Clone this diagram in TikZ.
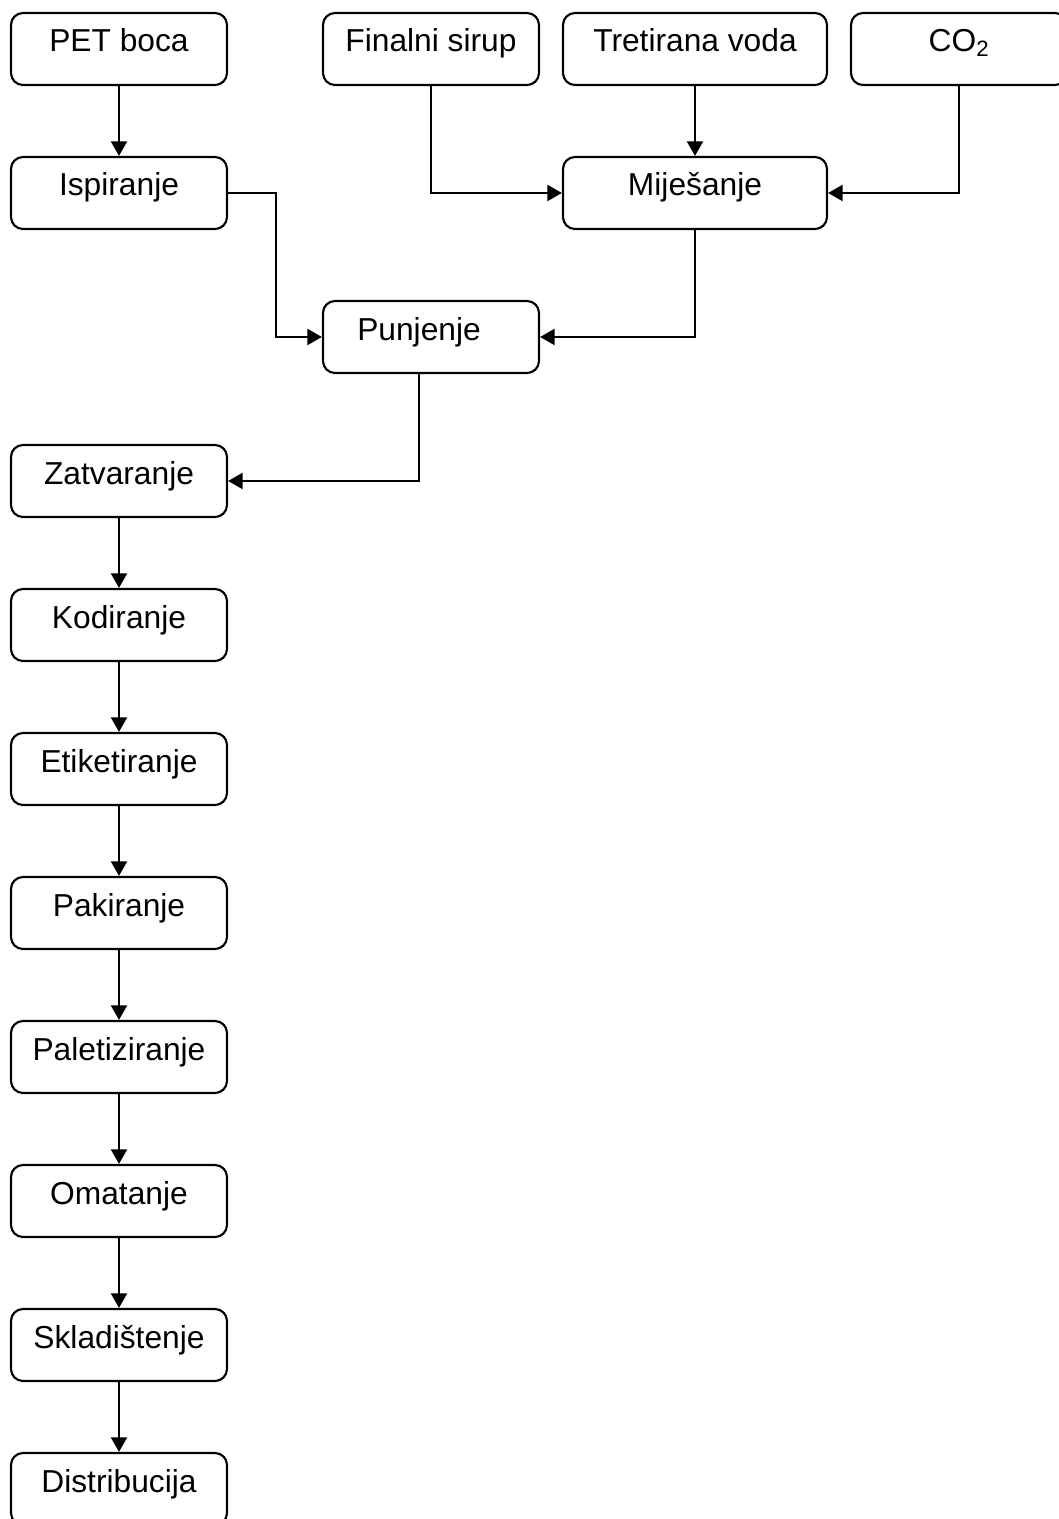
\documentclass[tikz,border=0pt]{standalone}
\usepackage{fontspec}
\setmainfont{Liberation Sans}
\usetikzlibrary{arrows.meta, positioning}

\begin{document}
\begin{tikzpicture}[
    x=0.75pt, y=-0.75pt,
    every node/.style={font=\fontsize{23.8pt}{28pt}\selectfont},
    proc/.style={rectangle, rounded corners=9pt, draw=black, line width=1.6pt, fill=white, minimum width=162pt, minimum height=54pt, inner ysep=0pt, text height=29.25pt, text depth=24.75pt},
    wide/.style={proc, minimum width=198pt},
    flow/.style={-{Triangle[length=11pt, width=12pt]}, line width=1.8pt, color=black}
]
\useasboundingbox (0,0) rectangle (1059,1519);

% Inputs (top row)
\node[proc] (pet)   at (119,49) {PET boca};
\node[proc] (sirup) at (431,49) {Finalni sirup};
\node[wide] (voda)  at (695,49) {Tretirana voda};
\node[proc] (co2)   at (959,49) {CO\textsubscript{2}};

% Preparation
\node[proc] (isp)  at (119,193) {Ispiranje};
\node[wide] (mij)  at (695,193) {Miješanje};
\node[proc] (punj) at (431,337) {Punjenje\hspace*{18pt}};

% Main line (left column)
\node[proc] (zatv)  at (119,481)  {Zatvaranje};
\node[proc] (kod)   at (119,625)  {Kodiranje};
\node[proc] (etik)  at (119,769)  {Etiketiranje};
\node[proc] (pak)   at (119,913)  {Pakiranje};
\node[proc] (palet) at (119,1057) {Paletiziranje};
\node[proc] (omat)  at (119,1201) {Omatanje};
\node[proc] (skl)   at (119,1345) {Skladištenje};
\node[proc] (distr) at (119,1489) {Distribucija};

% Bottle and mixing flows
\draw[flow] (pet) -- (isp);
\draw[flow] (isp.east) -- ++(48,0) |- (punj.west);
\draw[flow] (sirup.south) |- (mij.west);
\draw[flow] (voda) -- (mij);
\draw[flow] (co2.south) |- (mij.east);
\draw[flow] (mij.south) |- (punj.east);
\draw[flow] ([xshift=-9pt]punj.south) |- (zatv.east);

% Main line flows
\draw[flow] (zatv) -- (kod);
\draw[flow] (kod) -- (etik);
\draw[flow] (etik) -- (pak);
\draw[flow] (pak) -- (palet);
\draw[flow] (palet) -- (omat);
\draw[flow] (omat) -- (skl);
\draw[flow] (skl) -- (distr);
\end{tikzpicture}
\end{document}
